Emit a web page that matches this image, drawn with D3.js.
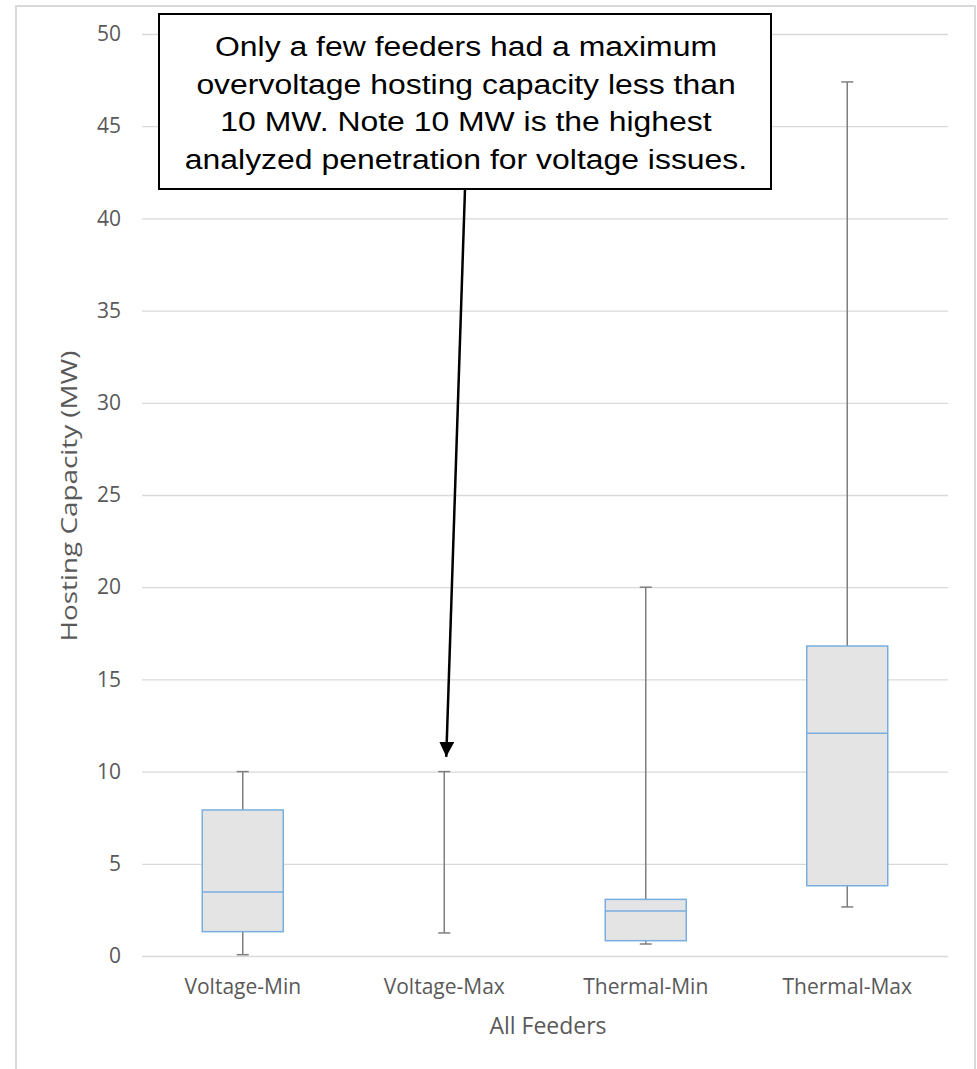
<!DOCTYPE html>
<html>
<head>
<meta charset="utf-8">
<script src="https://cdn.jsdelivr.net/npm/d3@7"></script>
<style>
  html, body { margin: 0; padding: 0; background: #fff; }
  svg { display: block; }
</style>
</head>
<body>
<div id="chart"></div>
<script>
// box plot values (MW)
const categories = ['Voltage-Min', 'Voltage-Max', 'Thermal-Min', 'Thermal-Max'];
const mins = [0.07, 1.25, 0.65, 2.66];
const q1s = [1.32, 10, 0.83, 3.81];
const medians = [3.47, 10, 2.44, 12.08];
const q3s = [7.92, 10, 3.07, 16.81];
const maxs = [10, 10, 20, 47.4];
const yTicks = [0, 5, 10, 15, 20, 25, 30, 35, 40, 45, 50];

const noteLines = [
  'Only a few feeders had a maximum',
  'overvoltage hosting capacity less than',
  '10 MW. Note 10 MW is the highest',
  'analyzed penetration for voltage issues.'
];
const noteTarget = { category: 'Voltage-Max', value: 10.8 };

const width = 977, height = 1069;
const margin = { top: 34, right: 29, bottom: 113, left: 142 };
const innerW = width - margin.left - margin.right;
const innerH = height - margin.top - margin.bottom;

const labelFont = '"Open Sans", sans-serif';

const data = categories.map((c, i) => ({
  cat: c, min: mins[i], q1: q1s[i], med: medians[i], q3: q3s[i], max: maxs[i]
}));

const svg = d3.select('#chart')
  .append('svg')
  .attr('width', width)
  .attr('height', height);

// outer chart frame
svg.append('rect')
  .attr('x', 16)
  .attr('y', 6)
  .attr('width', 959)
  .attr('height', 1080)
  .attr('fill', 'none')
  .attr('stroke', '#d9d9d9')
  .attr('stroke-width', 2);

const g = svg.append('g')
  .attr('transform', `translate(${margin.left},${margin.top})`);

const x = d3.scaleBand()
  .domain(categories)
  .range([0, innerW]);

const y = d3.scaleLinear()
  .domain([0, 50])
  .range([innerH, 0]);

// Y axis with gridlines
g.append('g')
  .call(d3.axisLeft(y).tickValues(yTicks).tickSize(-innerW).tickPadding(21))
  .call(a => a.select('.domain').remove())
  .call(a => a.selectAll('.tick line').attr('stroke', '#d9d9d9').attr('stroke-width', 1.3))
  .call(a => a.selectAll('.tick text')
    .attr('fill', '#595959')
    .style('font-family', labelFont)
    .style('font-size', '21px'));

// X axis labels
g.append('g')
  .attr('transform', `translate(0,${innerH})`)
  .call(d3.axisBottom(x).tickSize(0).tickPadding(23))
  .call(a => a.select('.domain').remove())
  .call(a => a.selectAll('.tick text')
    .attr('fill', '#595959')
    .style('font-family', labelFont)
    .style('font-size', '21px'));

// axis titles
svg.append('text')
  .attr('x', margin.left + innerW / 2 + 3)
  .attr('y', 1034)
  .attr('text-anchor', 'middle')
  .attr('fill', '#595959')
  .style('font-family', labelFont)
  .style('font-size', '23px')
  .text('All Feeders');

svg.append('text')
  .attr('transform', 'translate(77,496) rotate(-90)')
  .attr('text-anchor', 'middle')
  .attr('fill', '#595959')
  .attr('textLength', 291)
  .attr('lengthAdjust', 'spacingAndGlyphs')
  .style('font-family', labelFont)
  .style('font-size', '22px')
  .text('Hosting Capacity (MW)');

const boxW = 81;
const capW = 12;

const box = g.selectAll('.box')
  .data(data)
  .join('g')
  .attr('class', 'box')
  .attr('transform', d => `translate(${x(d.cat) + x.bandwidth() / 2},0)`);

// whiskers
box.append('line')
  .attr('y1', d => y(d.max))
  .attr('y2', d => y(d.min))
  .attr('stroke', '#7f7f7f')
  .attr('stroke-width', 1.5);

box.selectAll('.cap')
  .data(d => [d.min, d.max])
  .join('line')
  .attr('class', 'cap')
  .attr('x1', -capW / 2)
  .attr('x2', capW / 2)
  .attr('y1', v => y(v))
  .attr('y2', v => y(v))
  .attr('stroke', '#7f7f7f')
  .attr('stroke-width', 1.5);

// boxes (skip when collapsed)
const solid = box.filter(d => d.q3 > d.q1);

solid.append('rect')
  .attr('x', -boxW / 2)
  .attr('width', boxW)
  .attr('y', d => y(d.q3))
  .attr('height', d => y(d.q1) - y(d.q3))
  .attr('fill', '#e4e4e4')
  .attr('stroke', '#7aaee0')
  .attr('stroke-width', 1.5);

solid.append('line')
  .attr('x1', -boxW / 2)
  .attr('x2', boxW / 2)
  .attr('y1', d => y(d.med))
  .attr('y2', d => y(d.med))
  .attr('stroke', '#7aaee0')
  .attr('stroke-width', 1.5);

// annotation callout
const note = svg.append('g');
const noteBox = { x: 159, y: 14, w: 612, h: 175 };

note.append('rect')
  .attr('x', noteBox.x)
  .attr('y', noteBox.y)
  .attr('width', noteBox.w)
  .attr('height', noteBox.h)
  .attr('fill', '#fff')
  .attr('stroke', '#000')
  .attr('stroke-width', 2);

note.selectAll('text')
  .data(noteLines)
  .join('text')
  .attr('transform', (d, i) =>
    `translate(${noteBox.x + noteBox.w / 2 + 1},${noteBox.y + 42 + i * 37.5}) scale(1.14,1)`)
  .attr('text-anchor', 'middle')
  .attr('fill', '#000')
  .style('font-family', '"Liberation Sans", Arial, sans-serif')
  .style('font-size', '28px')
  .text(d => d);

svg.append('defs').append('marker')
  .attr('id', 'arrow')
  .attr('viewBox', '0 0 10 10')
  .attr('refX', 10)
  .attr('refY', 5)
  .attr('markerWidth', 6)
  .attr('markerHeight', 6)
  .attr('markerUnits', 'strokeWidth')
  .attr('orient', 'auto')
  .append('path')
  .attr('d', 'M0,0 L10,5 L0,10 Z')
  .attr('fill', '#000');

const tipX = margin.left + x(noteTarget.category) + x.bandwidth() / 2 + 2;
const tipY = margin.top + y(noteTarget.value);

svg.append('line')
  .attr('x1', 465)
  .attr('y1', noteBox.y + noteBox.h)
  .attr('x2', tipX)
  .attr('y2', tipY)
  .attr('stroke', '#000')
  .attr('stroke-width', 2.5)
  .attr('marker-end', 'url(#arrow)');
</script>
</body>
</html>
